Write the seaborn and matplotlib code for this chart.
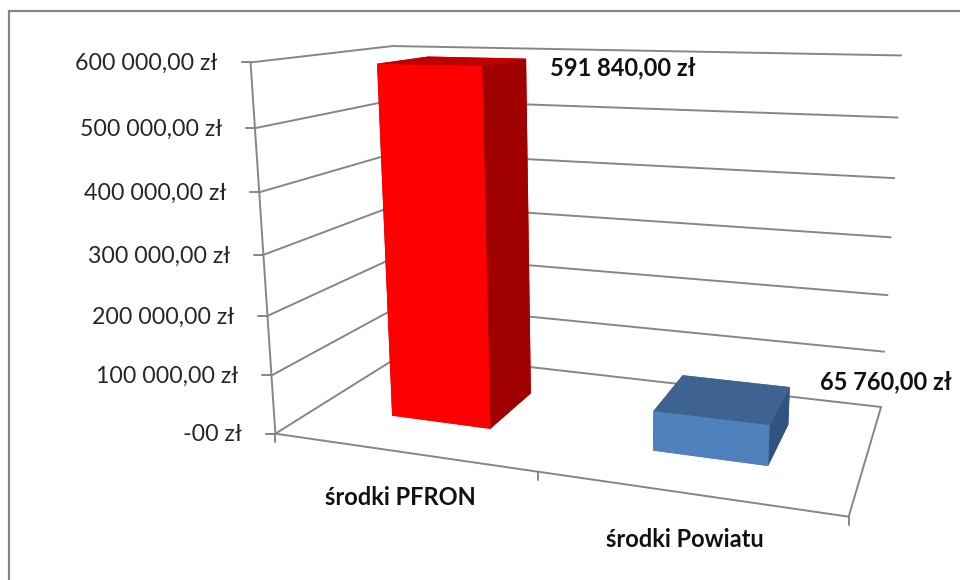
import matplotlib
matplotlib.use('Agg')
import matplotlib.pyplot as plt
import numpy as np
import pandas as pd
import seaborn as sns
from matplotlib.lines import Line2D
from matplotlib.patches import Rectangle
from matplotlib.transforms import IdentityTransform
from mpl_toolkits.mplot3d import proj3d

categories = ['środki PFRON', 'środki Powiatu']
values = [591840, 65760]
value_labels = ['591 840,00 zł', '65 760,00 zł']
value_ticks = [0, 100000, 200000, 300000, 400000, 500000, 600000]
tick_labels = ['-00 zł', '100 000,00 zł', '200 000,00 zł', '300 000,00 zł',
               '400 000,00 zł', '500 000,00 zł', '600 000,00 zł']

df = pd.DataFrame({'kategoria': categories, 'kwota': values, 'opis': value_labels})

sns.set_theme(style='white')
plt.rcParams['font.family'] = ['Lato', 'DejaVu Sans']

W, H = 960, 580
grid_color = '#868686'
bar_faces = [('#FF0000', '#C00000', '#A00000'), ('#4F81BD', '#3E6391', '#2F5480')]

fig = plt.figure(figsize=(W / 100, H / 100), dpi=100)
fig.patch.set_facecolor('white')

# kamera dopasowana do obrazka
size, cx, cy = 709.9162, 576.5726, 255.4153
ax = fig.add_axes([(cx - size / 2) / W, (H - cy - size / 2) / H, size / W, size / H], projection='3d')
ax.computed_zorder = False
ax.view_init(12.9898, -70.5588, 0.1758)
ax.set_proj_type('persp', focal_length=0.3046)
ax.set_box_aspect((1.5346, 0.7408, 1), zoom=1)
n = len(categories)
ymax = value_ticks[-1]
ax.set_xlim(0, n, view_margin=0)
ax.set_ylim(0, 1, view_margin=0)
ax.set_zlim(0, ymax, view_margin=0)
ax.set_axis_off()
ax.apply_aspect()


def to_px(x, y, z):
    px, py, _ = proj3d.proj_transform(x, y, z, ax.get_proj())
    return ax.transData.transform((px, py))


# siatka na scianach
for t in value_ticks:
    ax.plot([0, 0, n], [0, 1, 1], [t, t, t], color=grid_color, lw=1.4, zorder=1)
ax.plot([0, 0], [0, 0], [0, ymax], color=grid_color, lw=1.4, zorder=1)
ax.plot([0, n, n], [0, 0, 1], [0, 0, 0], color=grid_color, lw=1.4, zorder=1)

# slupki
bar_w, bar_d = 0.395, 0.4
for i, row in df.iterrows():
    front, top, side = bar_faces[i]
    ax.bar3d(i + 0.505 - bar_w / 2, 0.5 - bar_d / 2, 0, bar_w, bar_d, row['kwota'],
             color=[front, top, front, front, side, side], shade=False,
             edgecolor='none', zorder=3 + i)

# znaczniki i opisy osi
for t, lab in zip(value_ticks, tick_labels):
    px, py = to_px(0, 0, t)
    fig.add_artist(Line2D([px - 9, px], [py, py], color=grid_color, lw=1.4, transform=IdentityTransform()))
    ax.annotate(lab, proj3d.proj_transform(0, 0, t, ax.get_proj())[:2], xytext=(-33, -1),
                textcoords='offset pixels', ha='right', va='center', fontsize=16.7, color='#262626')
for i in range(n + 1):
    px, py = to_px(i, 0, 0)
    fig.add_artist(Line2D([px, px], [py, py - 8], color=grid_color, lw=1.4, transform=IdentityTransform()))

for i, row in df.iterrows():
    anchor = proj3d.proj_transform(i + 0.5, 0, 0, ax.get_proj())[:2]
    ax.annotate(row['kategoria'], anchor, xytext=(-1, -46), textcoords='offset pixels',
                ha='center', va='center', fontsize=17, fontweight='bold', color='#111111')
    corner = proj3d.proj_transform(i + 0.505 + bar_w / 2, 0.5 + bar_d / 2, row['kwota'], ax.get_proj())[:2]
    ax.annotate(row['opis'], corner, xytext=(24, -9) if i == 0 else (30, 5), textcoords='offset pixels',
                ha='left', va='center', fontsize=17, fontweight='bold', color='#111111')

# ramka wykresu
fig.add_artist(Rectangle((9, -20), W, H - 11 + 20, fill=False, edgecolor=grid_color, lw=1.6,
                         transform=IdentityTransform()))

fig.savefig('out.png', dpi=100)
